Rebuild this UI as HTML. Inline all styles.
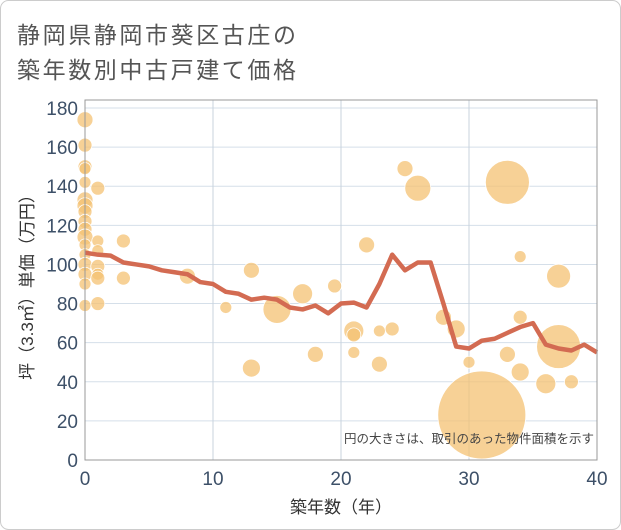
<!DOCTYPE html>
<html><head><meta charset="utf-8"><style>
html,body{margin:0;padding:0;background:#fff;}
svg{display:block;font-family:"Liberation Sans","Noto Sans CJK JP",sans-serif;}
</style></head><body>
<svg id="chart" width="621" height="530" viewBox="0 0 621 530" xmlns="http://www.w3.org/2000/svg">
<rect x="0.5" y="0.5" width="620" height="529" rx="8" fill="#fff" stroke="#ccc"/>
<text x="17" y="43" font-size="23" fill="#555" letter-spacing="2.6">静岡県静岡市葵区古庄の</text>
<text x="17" y="78" font-size="23" fill="#555" letter-spacing="2.6">築年数別中古戸建て価格</text>
<g id="grid"></g>
<g id="bubbles"></g>
<g id="line"></g>
<g id="axes"></g>
<text x="594" y="443" font-size="12.5" fill="#444" text-anchor="end">円の大きさは、取引のあった物件面積を示す</text>
<text x="341" y="513" font-size="17" fill="#333" text-anchor="middle">築年数（年）</text>
<text transform="translate(33,283) rotate(-90)" font-size="17" fill="#333" text-anchor="middle">坪（3.3㎡）単価（万円）</text>
</svg>
<script>
const xTicks=[0,10,20,30,40];
const yTicks=[0,20,40,60,80,100,120,140,160,180];
const lineYears=[0,1,2,3,4,5,6,7,8,9,10,11,12,13,14,15,16,17,18,19,20,21,22,23,24,25,26,27,28,29,30,31,32,33,34,35,36,37,38,39,40];
const lineValues=[106,105,104.5,101,100,99,97,96,95,91,90,86,85,82,83,82,78,77,79,75,80,80.5,78,90,105,97,101,101,80,58,57,61,62,65,68,70,59,57,56,59,55];
const bubbleYears=[0,0,0,0,0,0,0,0,0,0,0,0,0,0,0,0,0,1,1,1,1,1,1,1,3,3,8,11,13,13,15,17,18,19.5,21,21,21,22,23,23,24,25,26,28,29,30,31,33,33,34,34,34,36,37,37,38];
const bubbleValues=[174,161,150,149,142,133,130,127,122,118,114,110,105,100,95,90,79,139,112,107,99,95,93,80,112,93,94,78,97,47,77,85,54,89,66,64,55,110,66,49,67,149,139,73,67,50,23,142,54,104,73,45,39,94,58,40];
const bubbleSizes=[8,7,7,6,6,8,8,7,7,7,8,6,6,7,7,6,6,7,6,6,7,6,7,7,7,7,8,6,8,9,14,10,8,7,10,7,6,8,6,8,7,8,13,8,9,6,44,22,8,6,7,9,10,12,22,7];
const X0=85,X1=597,Y0=460,Y1=108;
const xs=v=>X0+(v/40)*(X1-X0);
const ys=v=>Y0-(v/180)*(Y0-Y1);
const NS='http://www.w3.org/2000/svg';
function mk(tag,attrs,parent){const e=document.createElementNS(NS,tag);for(const k in attrs)e.setAttribute(k,attrs[k]);parent.appendChild(e);return e;}
const grid=document.getElementById('grid');
mk('rect',{x:X0,y:100,width:X1-X0,height:Y0-100,fill:'#fff',stroke:'none'},grid);
yTicks.forEach(t=>{const l=mk('line',{x1:X0,x2:X1,y1:ys(t),y2:ys(t),stroke:'#d5dfe9','stroke-width':1},grid);

});
xTicks.forEach(t=>{const l=mk('line',{x1:xs(t),x2:xs(t),y1:100,y2:Y0,stroke:'#c8d3de','stroke-width':1},grid);

});
const bg=document.getElementById('bubbles');
bubbleYears.forEach((yr,i)=>{const c=mk('circle',{cx:xs(yr),cy:ys(bubbleValues[i]),r:bubbleSizes[i],fill:'#f4c173','fill-opacity':0.75,stroke:'#fff','stroke-width':0.8},bg);

});
const lg=document.getElementById('line');
const pts=lineYears.map((yr,i)=>xs(yr)+','+ys(lineValues[i])).join(' ');
const pl=mk('polyline',{points:pts,fill:'none',stroke:'#d36b52','stroke-width':4.5,'stroke-linejoin':'round'},lg);


const ax=document.getElementById('axes');
mk('rect',{x:X0,y:100,width:X1-X0,height:Y0-100,fill:'none',stroke:'#999','stroke-width':1},ax);
yTicks.forEach(t=>{const tx=mk('text',{x:78,y:ys(t)+7,'font-size':19,fill:'#3d5068','text-anchor':'end'},ax);tx.textContent=t;

});
xTicks.forEach(t=>{const tx=mk('text',{x:xs(t),y:485,'font-size':19,fill:'#3d5068','text-anchor':'middle'},ax);tx.textContent=t;

});
</script>
</body></html>
